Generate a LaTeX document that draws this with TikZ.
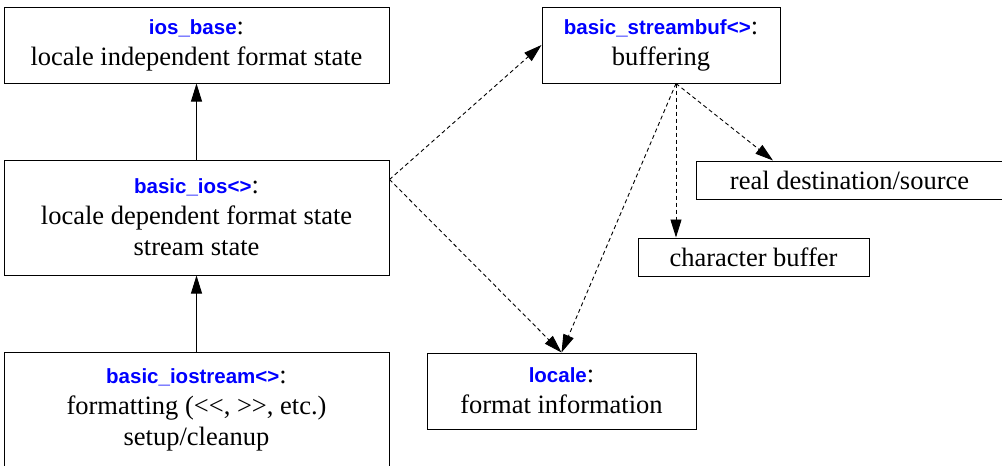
\documentclass[tikz,border=0pt]{standalone}
\usepackage{fontspec}
\setmainfont{Liberation Serif}
\newfontfamily\clsfont{Liberation Sans}
\usetikzlibrary{arrows.meta}

% class name in blue, then a colon
\newcommand{\cls}[1]{{\clsfont\bfseries\fontsize{20.5}{31}\selectfont\color{blue}#1}:}

\tikzset{
  classbox/.style={draw, line width=1pt, rectangle, inner sep=0pt, align=center,
    font=\fontsize{26.5}{31}\selectfont},
  inherit/.style={-{Triangle[length=18pt,width=11pt]}, line width=0.9pt},
  uses/.style={inherit, dash pattern=on 4pt off 3pt}
}

\begin{document}
\begin{tikzpicture}[x=1pt, y=-1pt]
  \clip (0,0) rectangle (1002,466);
  \node[classbox, minimum width=385pt, minimum height=76pt] (iosbase) at (196.5,45)
    {\cls{ios\_base}\\ locale independent format state};
  \node[classbox, minimum width=385pt, minimum height=115pt] (basicios) at (196.5,217.5)
    {\cls{basic\_ios<>}\\ locale dependent format state\\ stream state};
  \node[classbox, minimum width=385pt, minimum height=115pt] (iostream) at (196.5,409.5)
    {\cls{basic\_iostream<>}\\ formatting (<\kern0pt<, >\kern0pt>, etc.)\\ setup/cleanup};
  \node[classbox, minimum width=238pt, minimum height=76pt] (streambuf) at (661,45)
    {\cls{basic\_streambuf<>}\\ buffering};
  \node[classbox, minimum width=307pt, minimum height=38pt] (realdest) at (849.5,180)
    {real destination/source};
  \node[classbox, minimum width=231pt, minimum height=38pt] (charbuf) at (753.5,257)
    {character buffer};
  \node[classbox, minimum width=269pt, minimum height=76pt] (locale) at (561.5,391)
    {\cls{locale}\\ format information};

  % ports where the dashed lines leave
  \coordinate (iosport) at ([yshift=-20pt]basicios.north east);
  \coordinate (bufport) at ([xshift=15pt]streambuf.south);
  \coordinate (realtop) at ([xshift=-76.5pt]realdest.north);

  \draw[inherit] (basicios) -- (iosbase);
  \draw[inherit] (iostream) -- (basicios);
  \draw[uses] (iosport) -- (streambuf.west);
  \draw[uses] (iosport) -- (locale.north);
  \draw[uses] (bufport) -- (locale.north);
  \draw[uses] (bufport) -- (bufport |- charbuf.north);
  \draw[uses] (bufport) -- (realtop);
\end{tikzpicture}
\end{document}
